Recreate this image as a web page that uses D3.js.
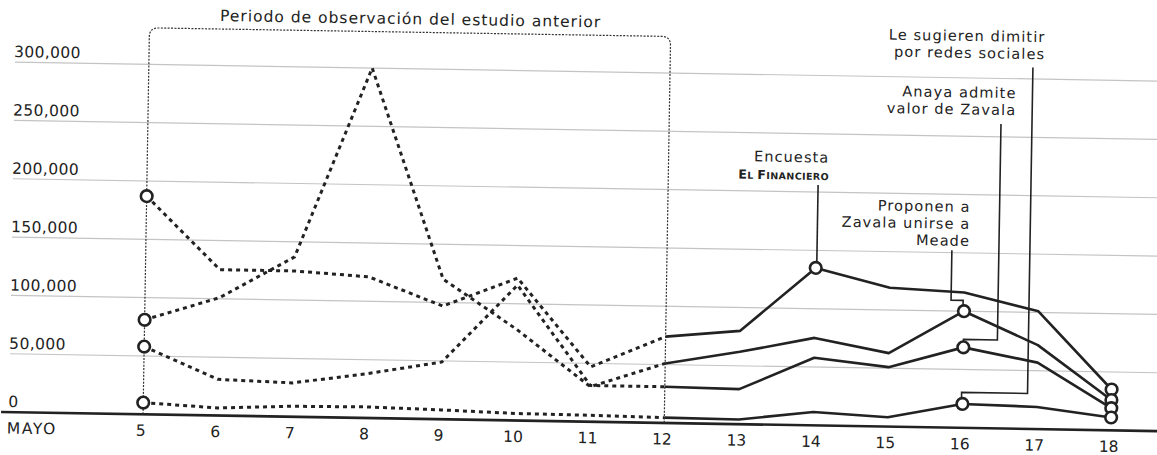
<!DOCTYPE html>
<html>
<head>
<meta charset="utf-8">
<script src="https://cdn.jsdelivr.net/npm/d3@7"></script>
<style>
  body { margin: 0; background: #fff; }
  svg { display: block; }
  text { font-family: "DejaVu Sans", sans-serif; fill: #222; }
</style>
</head>
<body>
<svg id="chart"></svg>
<script>
// dias de mayo
const dias = [5, 6, 7, 8, 9, 10, 11, 12, 13, 14, 15, 16, 17, 18];
// menciones por dia
const lineaA = [187000, 125000, 125000, 121000, 97000, 122000, 47000, 74000, 80000, 135000, 119000, 116000, 101000, 35000];
const lineaB = [81000, 101000, 137000, 300000, 120000, 78000, 30000, 51000, 62000, 75000, 63000, 100000, 72000, 26000];
const lineaC = [58000, 31000, 29000, 38000, 49000, 116000, 31000, 31000, 30000, 58000, 51000, 69000, 57000, 19000];
const lineaD = [10000, 6500, 9000, 9500, 8000, 6000, 5500, 4500, 4000, 11500, 8000, 20500, 19000, 11000];
const yTicks = [0, 50000, 100000, 150000, 200000, 250000, 300000];
const diaFinEstudio = 12;
const titulo = 'Periodo de observación del estudio anterior';

const W = 1157, H = 455;
const svg = d3.select('#chart').attr('width', W).attr('height', H);

// the scan is tilted about one degree
const g = svg.append('g').attr('transform', 'rotate(0.95,580,240)');

const x = d3.scaleLinear().domain([5, 18]).range([146, 1114]);
const y = d3.scaleLinear().domain([0, 300000]).range([421.5, 71.5]);
const fmt = d3.format(',');
const R = 5.8;

// grid
g.selectAll('line.grid')
  .data(yTicks.filter(d => d > 0))
  .join('line')
    .attr('class', 'grid')
    .attr('x1', 12).attr('x2', 1180)
    .attr('y1', d => y(d)).attr('y2', d => y(d))
    .attr('stroke', '#c4c4c4')
    .attr('stroke-width', 1.2);

g.selectAll('text.ytick')
  .data(yTicks)
  .join('text')
    .attr('class', 'ytick')
    .attr('x', 11)
    .attr('y', d => y(d) - 5)
    .attr('font-size', 15.5)
    .attr('letter-spacing', 0.4)
    .text(d => fmt(d));

// base line
g.append('line')
  .attr('x1', 4).attr('x2', 1180)
  .attr('y1', y(0)).attr('y2', y(0))
  .attr('stroke', '#222')
  .attr('stroke-width', 2.6);

// x labels
g.append('text')
  .attr('x', 10).attr('y', y(0) + 21.5)
  .attr('font-size', 15.5)
  .attr('letter-spacing', 1.6)
  .text('MAYO');

g.selectAll('text.xtick')
  .data(dias)
  .join('text')
    .attr('class', 'xtick')
    .attr('x', d => x(d) - 2)
    .attr('y', y(0) + 21.5)
    .attr('text-anchor', 'middle')
    .attr('font-size', 15.5)
    .text(d => d);

// periodo del estudio anterior
const bx0 = x(dias[0]), bx1 = x(diaFinEstudio), by = 35, rr = 9;
g.append('path')
  .attr('d', `M${bx0},${y(0)} V${by + rr} Q${bx0},${by} ${bx0 + rr},${by} H${bx1 - rr} Q${bx1},${by} ${bx1},${by + rr} V${y(0)}`)
  .attr('fill', 'none')
  .attr('stroke', '#333')
  .attr('stroke-width', 1.2)
  .attr('stroke-dasharray', '2,1.4');

g.append('text')
  .attr('x', 407).attr('y', 27)
  .attr('text-anchor', 'middle')
  .attr('font-size', 15.5)
  .attr('letter-spacing', 1)
  .text(titulo);

// lines
const series = [lineaA, lineaB, lineaC, lineaD].map(v => dias.map((d, i) => ({ dia: d, valor: v[i] })));

const linea = d3.line()
  .x(d => x(d.dia)).y(d => y(d.valor));

g.selectAll('path.antes')
  .data(series)
  .join('path')
    .attr('class', 'antes')
    .attr('d', s => linea(s.filter(d => d.dia <= diaFinEstudio)))
    .attr('fill', 'none')
    .attr('stroke', '#222')
    .attr('stroke-width', 3)
    .attr('stroke-linejoin', 'round')
    .attr('stroke-dasharray', '4,4');

g.selectAll('path.despues')
  .data(series)
  .join('path')
    .attr('class', 'despues')
    .attr('d', s => linea(s.filter(d => d.dia >= diaFinEstudio)))
    .attr('fill', 'none')
    .attr('stroke', '#222')
    .attr('stroke-width', 2.6)
    .attr('stroke-linejoin', 'round');

// leader lines to the notes
const punto = (s, dia) => series[s].find(d => d.dia === dia);
const p14 = punto(0, 14), pB = punto(1, 16), pC = punto(2, 16), pD = punto(3, 16);
const guias = [
  `M${x(14) + 1},181 V${y(p14.valor) - R}`,
  `M952,244 V294 H${x(16) - 1} V${y(pB.valor) - R}`,
  `M999,117 V333 H${x(16)} V${y(pC.valor) - R}`,
  `M1030,60 V386 H${x(16) - 1} V${y(pD.valor) - R}`
];
g.selectAll('path.guia')
  .data(guias)
  .join('path')
    .attr('class', 'guia')
    .attr('d', d => d)
    .attr('fill', 'none')
    .attr('stroke', '#222')
    .attr('stroke-width', 1.6);

// circles
const marcas = [];
series.forEach(s => {
  marcas.push(s[0]);
  marcas.push(s[s.length - 1]);
});
marcas.push(p14, pB, pC, pD);

g.selectAll('circle')
  .data(marcas)
  .join('circle')
    .attr('cx', d => x(d.dia))
    .attr('cy', d => y(d.valor))
    .attr('r', R)
    .attr('fill', '#fff')
    .attr('stroke', '#222')
    .attr('stroke-width', 2.6);

// notes
const notas = [
  { x: 1042, y: 34.5, lineas: ['Le sugieren dimitir', 'por redes sociales'] },
  { x: 1014, y: 91, lineas: ['Anaya admite', 'valor de Zavala'] },
  { x: 970, y: 205.5, lineas: ['Proponen a', 'Zavala unirse a', 'Meade'] }
];
notas.forEach(n => {
  g.append('text')
    .attr('x', n.x).attr('y', n.y)
    .attr('text-anchor', 'end')
    .attr('font-size', 14.5)
    .attr('letter-spacing', 1.1)
    .selectAll('tspan')
    .data(n.lineas)
    .join('tspan')
      .attr('x', n.x)
      .attr('dy', (d, i) => i ? 17 : 0)
      .text(d => d);
});

g.append('text')
  .attr('x', 828).attr('y', 158.5)
  .attr('text-anchor', 'end')
  .attr('font-size', 14.5)
  .attr('letter-spacing', 1.1)
  .text('Encuesta');

const fin = g.append('text')
  .attr('x', 828).attr('y', 176)
  .attr('text-anchor', 'end')
  .attr('font-weight', 'bold')
  .attr('letter-spacing', 0.4);
[['E', 12.5], ['L ', 9.5], ['F', 12.5], ['INANCIERO', 9.5]].forEach(([t, s]) => {
  fin.append('tspan').attr('font-size', s).text(t);
});
</script>
</body>
</html>
